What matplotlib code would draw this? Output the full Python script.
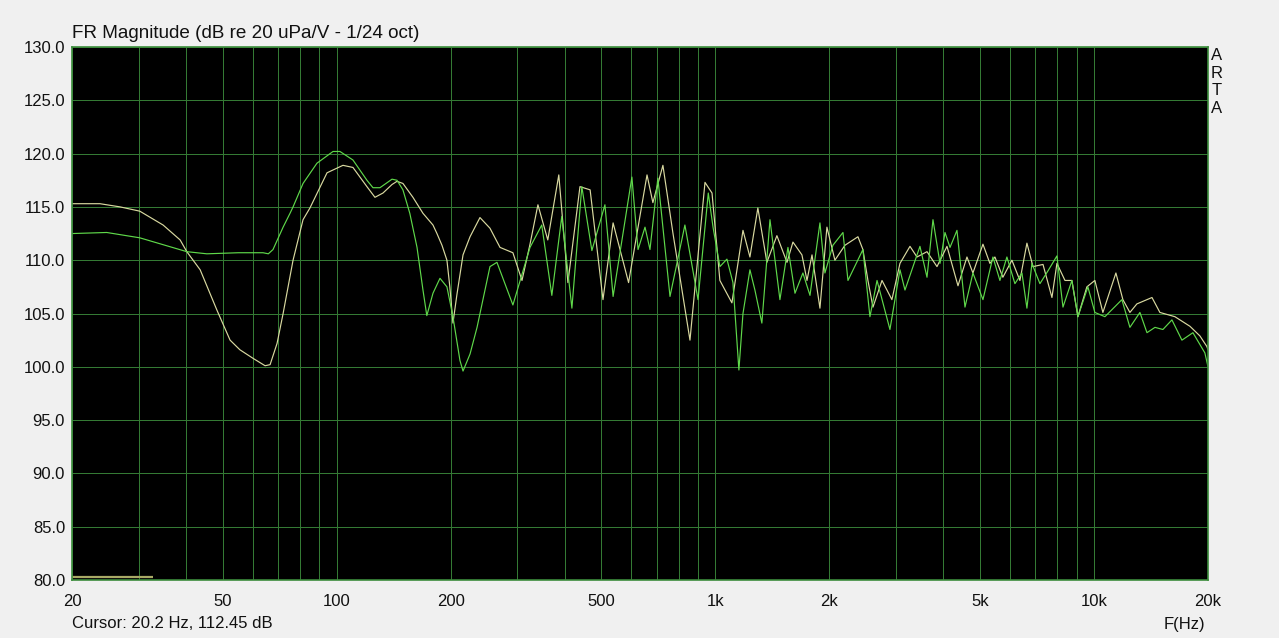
import matplotlib
matplotlib.use("Agg")
import matplotlib.pyplot as plt
from matplotlib.ticker import LogLocator, NullFormatter, FixedLocator


# Data

yellow_hz = [20, 23.7, 26.8, 30.2, 34.8, 38.6, 40.2, 43.6, 48.3, 52.3,
             55.5, 60.1, 64.7, 66.7, 69.6, 72.2, 76.7, 81.5, 85.0, 94.3,
             103.9, 110.4, 120.2, 126.2, 132.5, 140, 144.3, 149.6, 159, 169,
             179.6, 184, 189.7, 195.5, 199, 202.8, 207.8, 215.6, 225, 239,
             254, 270, 292, 308.6, 324, 340, 361, 386, 408, 439,
             467, 505, 537, 590, 660, 684, 727, 773, 857, 939,
             980, 1028, 1106, 1183, 1234, 1295, 1368, 1454, 1546, 1603,
             1693, 1746, 1800, 1889, 1971, 2069, 2199, 2380, 2453, 2529,
             2608, 2755, 2926, 3073, 3266, 3408, 3622, 3849, 4090, 4373,
             4618, 4789, 5090, 5310, 5474, 5746, 6070, 6373, 6650, 6899,
             7333, 7743, 7981, 8381, 8741, 9067, 9576, 10052, 10555, 11424,
             11920, 12439, 12979, 14226, 14928, 16356, 17920, 19038, 19866, 20000]

yellow_db = [115.3, 115.3, 115.0, 114.6, 113.3, 111.9, 110.8, 109.1, 105.3, 102.5,
             101.6, 100.8, 100.1, 100.2, 102.2, 105.0, 110.0, 113.8, 114.9, 118.2,
             118.9, 118.7, 116.9, 115.9, 116.3, 117.1, 117.4, 117.2, 115.9, 114.4,
             113.3, 112.5, 111.4, 110.0, 107.5, 104.1, 106.8, 110.5, 112.2, 114.0,
             113.0, 111.2, 110.7, 108.1, 111.5, 115.2, 111.9, 118.0, 107.9, 116.9,
             116.6, 106.3, 113.5, 107.9, 118.0, 115.4, 118.9, 112.5, 102.5, 117.3,
             116.3, 108.1, 106.0, 112.8, 110.3, 114.9, 109.8, 112.3, 109.8, 111.7,
             110.5, 108.1, 110.5, 105.5, 113.1, 110.0, 111.4, 112.2, 111.0, 108.1,
             105.6, 108.1, 106.3, 109.7, 111.3, 110.3, 110.8, 109.4, 111.3, 107.6,
             110.3, 108.8, 111.5, 109.7, 110.3, 108.4, 110.0, 108.1, 111.6, 109.4,
             109.6, 106.5, 109.7, 108.1, 108.1, 104.7, 107.5, 108.1, 105.1, 108.8,
             106.3, 105.1, 105.9, 106.5, 105.1, 104.7, 103.8, 102.9, 101.9, 101.6]

green_hz = [20, 24.7, 30.2, 40.2, 45.4, 55.0, 63.9, 66.0, 67.9, 72.2,
            75.3, 76.7, 81.5, 88.7, 97.8, 102, 110.4, 120.2, 124.7, 130.1,
            140, 144.3, 149.6, 156, 163, 169, 173, 179.6, 187.4, 195.5,
            202.8, 211.6, 215.6, 225, 234.8, 254, 265, 292, 324, 348,
            370, 393, 418, 444, 472, 511, 537, 602, 625, 652,
            672, 705, 759, 831, 900, 958, 986, 1028, 1073, 1113,
            1154, 1183, 1234, 1272, 1327, 1394, 1481, 1555, 1623, 1703,
            1778, 1889, 1947, 2044, 2173, 2240, 2453, 2560, 2673, 2891,
            3073, 3168, 3470, 3622, 3756, 3920, 4041, 4166, 4346, 4563,
            4789, 5090, 5408, 5643, 5888, 6182, 6452, 6650, 6855, 7198,
            7558, 7981, 8280, 8741, 9067, 9634, 10052, 10686, 11848, 12439,
            13220, 13800, 14488, 15204, 16060, 17068, 18248, 19624, 20000]

green_db = [112.5, 112.6, 112.1, 110.8, 110.6, 110.7, 110.7, 110.6, 111.0, 113.1,
            114.4, 115.0, 117.2, 119.1, 120.2, 120.2, 119.4, 117.5, 116.8, 116.8,
            117.6, 117.5, 116.6, 114.4, 111.2, 107.2, 104.8, 106.9, 108.3, 107.5,
            104.7, 100.6, 99.6, 101.2, 103.7, 109.4, 109.8, 105.8, 111.2, 113.3,
            106.7, 114.1, 105.5, 116.9, 110.9, 115.2, 106.6, 117.8, 111.0, 113.1,
            111.0, 117.7, 106.6, 113.3, 106.3, 116.3, 113.1, 109.4, 110.1, 107.9,
            99.7, 105.0, 109.1, 107.2, 104.1, 113.8, 106.3, 111.2, 106.9, 108.8,
            106.7, 113.5, 108.8, 111.4, 112.6, 108.1, 111.0, 104.7, 108.1, 103.5,
            109.1, 107.2, 111.3, 108.4, 113.8, 109.7, 112.6, 111.2, 112.8, 105.6,
            108.8, 106.3, 110.3, 108.1, 110.3, 107.8, 108.8, 105.5, 109.7, 107.8,
            109.0, 110.4, 105.6, 108.1, 104.7, 107.5, 105.1, 104.7, 106.3, 103.7,
            105.1, 103.2, 103.7, 103.5, 104.4, 102.5, 103.2, 101.3, 100.0]

# cursor marker at the bottom left
cursor_hz = [20, 32.7]
cursor_db = [80.25, 80.25]

x_ticks = [20, 50, 100, 200, 500, 1000, 2000, 5000, 10000, 20000]
x_labels = ["20", "50", "100", "200", "500", "1k", "2k", "5k", "10k", "20k"]
y_ticks = [80, 85, 90, 95, 100, 105, 110, 115, 120, 125, 130]


# Figure setup

plt.rcParams["font.family"] = ["Liberation Sans", "DejaVu Sans"]

BG = "#f0f0f0"
GRID = "#347a34"
YELLOW = "#d9d9a0"
GREEN = "#5fd84a"

fig = plt.figure(figsize=(12.79, 6.38), dpi=100)
fig.patch.set_facecolor(BG)

ax = fig.add_axes([72 / 1279, 58 / 638, 1136 / 1279, 533 / 638])
ax.set_facecolor("black")

ax.set_xscale("log")
ax.set_xlim(20, 20000)
ax.set_ylim(80, 130)

ax.xaxis.set_major_locator(FixedLocator(x_ticks))
ax.set_xticklabels(x_labels)
ax.xaxis.set_minor_locator(LogLocator(base=10, subs=range(2, 10)))
ax.xaxis.set_minor_formatter(NullFormatter())
ax.set_yticks(y_ticks)
ax.set_yticklabels([f"{v:.1f}" for v in y_ticks])

# 0.72 pt is one pixel at 100 dpi, keeps the grid crisp
ax.tick_params(which="both", length=0, labelsize=12, colors="#111111",
               grid_color=GRID, grid_linewidth=0.72, grid_alpha=1.0)
ax.tick_params(axis="x", pad=10)
ax.tick_params(axis="y", pad=5)

ax.grid(True, which="both", axis="x")
ax.grid(True, which="major", axis="y")
ax.set_axisbelow(True)

for spine in ax.spines.values():
    spine.set_color("#3c8c3c")
    spine.set_linewidth(1.2)


# Curves

ax.plot(yellow_hz, yellow_db, color=YELLOW, linewidth=0.85)
ax.plot(green_hz, green_db, color=GREEN, linewidth=0.85)
ax.plot(cursor_hz, cursor_db, color="#a9a965", linewidth=1.6, solid_capstyle="butt")


# Text

fig.text(72 / 1279, 1 - 33 / 638, "FR Magnitude (dB re 20 uPa/V - 1/24 oct)",
         fontsize=13.6, va="center", ha="left", color="#111111")

fig.text(1217 / 1279, 1 - 48 / 638, "A\nR\nT\nA",
         fontsize=12, va="top", ha="center", linespacing=1.22, color="#111111")

fig.text(72 / 1279, 1 - 624 / 638, "Cursor: 20.2 Hz, 112.45 dB",
         fontsize=12, va="center", ha="left", color="#111111")

fig.text(1184 / 1279, 1 - 624 / 638, "F(Hz)",
         fontsize=12, va="center", ha="center", color="#111111")

fig.savefig("out.png", dpi=100, facecolor=BG)
